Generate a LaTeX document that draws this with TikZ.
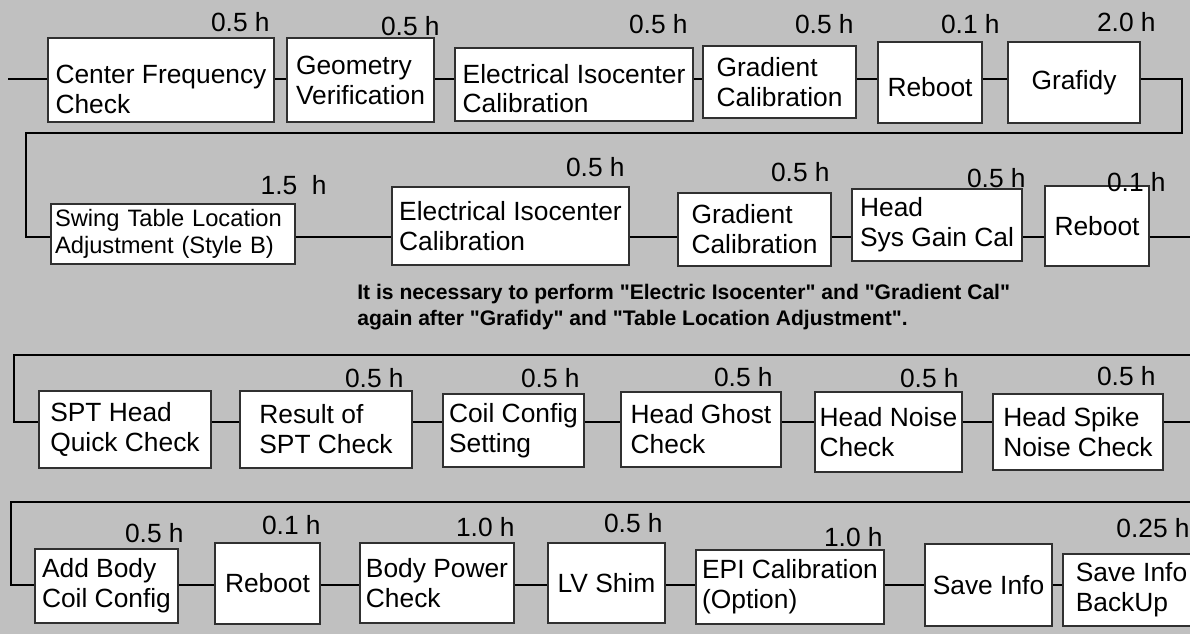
\documentclass[tikz,border=0pt]{standalone}
\usepackage{fontspec}
\setmainfont{Liberation Sans}
\definecolor{panel}{HTML}{C0C0C0}
\definecolor{rim}{HTML}{303030}
\newcommand{\quoted}[1]{\textquotedbl#1\textquotedbl}
\newcommand{\pushdown}[1]{\rule{0pt}{#1}}

\begin{document}
\begin{tikzpicture}[
    x=0.02cm, y=-0.02cm,
    stepbox/.style={draw=rim, fill=white, line width=0.6pt, align=left,
                    inner sep=0pt, font=\fontsize{15}{17}\selectfont},
    boxsize/.style 2 args={minimum width=#1*0.02cm, minimum height=#2*0.02cm},
    hours/.style={anchor=east, inner sep=0pt, font=\fontsize{15}{17}\selectfont},
    wire/.style={line width=0.8pt},
    remark/.style={anchor=west, inner sep=0pt, align=left,
                   font=\bfseries\fontsize{12}{14.7}\selectfont},
]

    \clip (0,0) rectangle (1190,634);
    \fill[panel] (0,0) rectangle (1190,634);

    % row 1
    \node[stepbox, boxsize={226}{84}] (freq) at (161,80) {\pushdown{21pt}Center Frequency\\Check};
    \node[stepbox, boxsize={147}{84}] (geom) at (360.5,80) {Geometry\\Verification};
    \node[stepbox, boxsize={238}{73}] (iso1) at (574,84.5) {\pushdown{15.5pt}Electrical Isocenter\\Calibration};
    \node[stepbox, boxsize={153}{72}] (grad1) at (779.5,82) {Gradient\\Calibration};
    \node[stepbox, boxsize={104}{81}] (boot1) at (930,82.5) {\pushdown{16.5pt}Reboot};
    \node[stepbox, boxsize={132}{81}] (grafidy) at (1074,82.5) {Grafidy};
    \node[hours] (hfreq) at (270,22) {0.5 h};
    \node[hours] (hgeom) at (440,26) {0.5 h};
    \node[hours] (hiso1) at (688,24) {0.5 h};
    \node[hours] (hgrad1) at (854,24) {0.5 h};
    \node[hours] (hboot1) at (1000,24) {0.1 h};
    \node[hours] (hgrafidy) at (1156,22) {2.0 h};

    % row 2
    \node[stepbox, boxsize={244}{60}, text width=4.72cm, font=\fontsize{13.5}{15.5}\selectfont]
        (swing) at (173,234) {Swing Table Location\\Adjustment (Style B)};
    \node[stepbox, boxsize={237}{78}] (iso2) at (510.5,226) {Electrical Isocenter\\Calibration};
    \node[stepbox, boxsize={153}{73}] (grad2) at (754.5,229.5) {Gradient\\Calibration};
    \node[stepbox, boxsize={170}{72}] (gain) at (937,225) {Head\\Sys Gain Cal};
    \node[stepbox, boxsize={104}{80}] (boot2) at (1097,226) {Reboot};
    \node[hours] (hswing) at (327,185) {1.5\ \ h};
    \node[hours] (hiso2) at (625,167) {0.5 h};
    \node[hours] (hgrad2) at (830,172) {0.5 h};
    \node[hours] (hgain) at (1026,178) {0.5 h};
    \node[hours] (hboot2) at (1166,182) {0.1 h};

    \node[remark] (remark) at (357,307) {It is necessary to perform \quoted{Electric Isocenter} and \quoted{Gradient Cal}\\again after \quoted{Grafidy} and \quoted{Table Location Adjustment}.};

    % row 3
    \node[stepbox, boxsize={172}{77}] (spt) at (125,429.5) {SPT Head\\Quick Check};
    \node[stepbox, boxsize={172}{77}] (result) at (326,429.5) {Result of\\SPT Check};
    \node[stepbox, boxsize={141}{73}] (coil) at (513.5,430.5) {Coil Config\\Setting};
    \node[stepbox, boxsize={160}{75}] (ghost) at (701,429.5) {Head Ghost\\Check};
    \node[stepbox, boxsize={147}{80}] (noise) at (888.5,432) {Head Noise\\Check};
    \node[stepbox, boxsize={170}{76}] (spike) at (1078,432) {Head Spike\\Noise Check};
    \node[hours] (hresult) at (404,378) {0.5 h};
    \node[hours] (hcoil) at (580,378) {0.5 h};
    \node[hours] (hghost) at (773,377) {0.5 h};
    \node[hours] (hnoise) at (959,378) {0.5 h};
    \node[hours] (hspike) at (1156,376) {0.5 h};

    % row 4
    \node[stepbox, boxsize={143}{74}] (body) at (106.5,586) {Add Body\\Coil Config};
    \node[stepbox, boxsize={105}{81}] (boot3) at (267.5,583.5) {Reboot};
    \node[stepbox, boxsize={154}{80}] (power) at (437,583) {Body Power\\Check};
    \node[stepbox, boxsize={117}{80}] (shim) at (606.5,583) {LV Shim};
    \node[stepbox, boxsize={188}{74}] (epi) at (790,587) {EPI Calibration\\(Option)};
    \node[stepbox, boxsize={127}{82}] (save) at (988.5,585) {Save Info};
    \node[stepbox, boxsize={137}{72}] (backup) at (1131.5,590) {Save Info\\BackUp};
    \node[hours] (hbody) at (184,533) {0.5 h};
    \node[hours] (hboot3) at (321,525) {0.1 h};
    \node[hours] (hpower) at (515,527) {1.0 h};
    \node[hours] (hshim) at (663,523) {0.5 h};
    \node[hours] (hepi) at (883,537) {1.0 h};
    \node[hours] (hbackup) at (1190,528) {0.25 h};

    % wiring
    \coordinate (entry) at (8,79);
    \coordinate (lane1) at (0,79);
    \coordinate (lane2) at (0,237);
    \coordinate (lane3) at (0,422);
    \coordinate (lane4) at (0,585);
    \coordinate (wrap1) at (1182,133);
    \coordinate (wrap2) at (26,133);
    \coordinate (exit2) at (1190,237);
    \coordinate (wrap3) at (1190,355);
    \coordinate (wrap4) at (14,355);
    \coordinate (exit3) at (1190,422);
    \coordinate (wrap5) at (1190,502);
    \coordinate (wrap6) at (11,502);

    \draw[wire] (entry) -- (entry -| freq.west);
    \draw[wire] (freq.east |- lane1) -- (geom.west |- lane1);
    \draw[wire] (geom.east |- lane1) -- (iso1.west |- lane1);
    \draw[wire] (iso1.east |- lane1) -- (grad1.west |- lane1);
    \draw[wire] (grad1.east |- lane1) -- (boot1.west |- lane1);
    \draw[wire] (boot1.east |- lane1) -- (grafidy.west |- lane1);
    \draw[wire] (grafidy.east |- lane1) -| (wrap1) -- (wrap2) |- (swing.west |- lane2);

    \draw[wire] (swing.east |- lane2) -- (iso2.west |- lane2);
    \draw[wire] (iso2.east |- lane2) -- (grad2.west |- lane2);
    \draw[wire] (grad2.east |- lane2) -- (gain.west |- lane2);
    \draw[wire] (gain.east |- lane2) -- (boot2.west |- lane2);
    \draw[wire] (boot2.east |- lane2) -- (exit2);

    \draw[wire] (wrap3) -- (wrap4) |- (spt.west |- lane3);
    \draw[wire] (spt.east |- lane3) -- (result.west |- lane3);
    \draw[wire] (result.east |- lane3) -- (coil.west |- lane3);
    \draw[wire] (coil.east |- lane3) -- (ghost.west |- lane3);
    \draw[wire] (ghost.east |- lane3) -- (noise.west |- lane3);
    \draw[wire] (noise.east |- lane3) -- (spike.west |- lane3);
    \draw[wire] (spike.east |- lane3) -- (exit3);

    \draw[wire] (wrap5) -- (wrap6) |- (body.west |- lane4);
    \draw[wire] (body.east |- lane4) -- (boot3.west |- lane4);
    \draw[wire] (boot3.east |- lane4) -- (power.west |- lane4);
    \draw[wire] (power.east |- lane4) -- (shim.west |- lane4);
    \draw[wire] (shim.east |- lane4) -- (epi.west |- lane4);
    \draw[wire] (epi.east |- lane4) -- (save.west |- lane4);
    \draw[wire] (save.east |- lane4) -- (backup.west |- lane4);

\end{tikzpicture}
\end{document}
